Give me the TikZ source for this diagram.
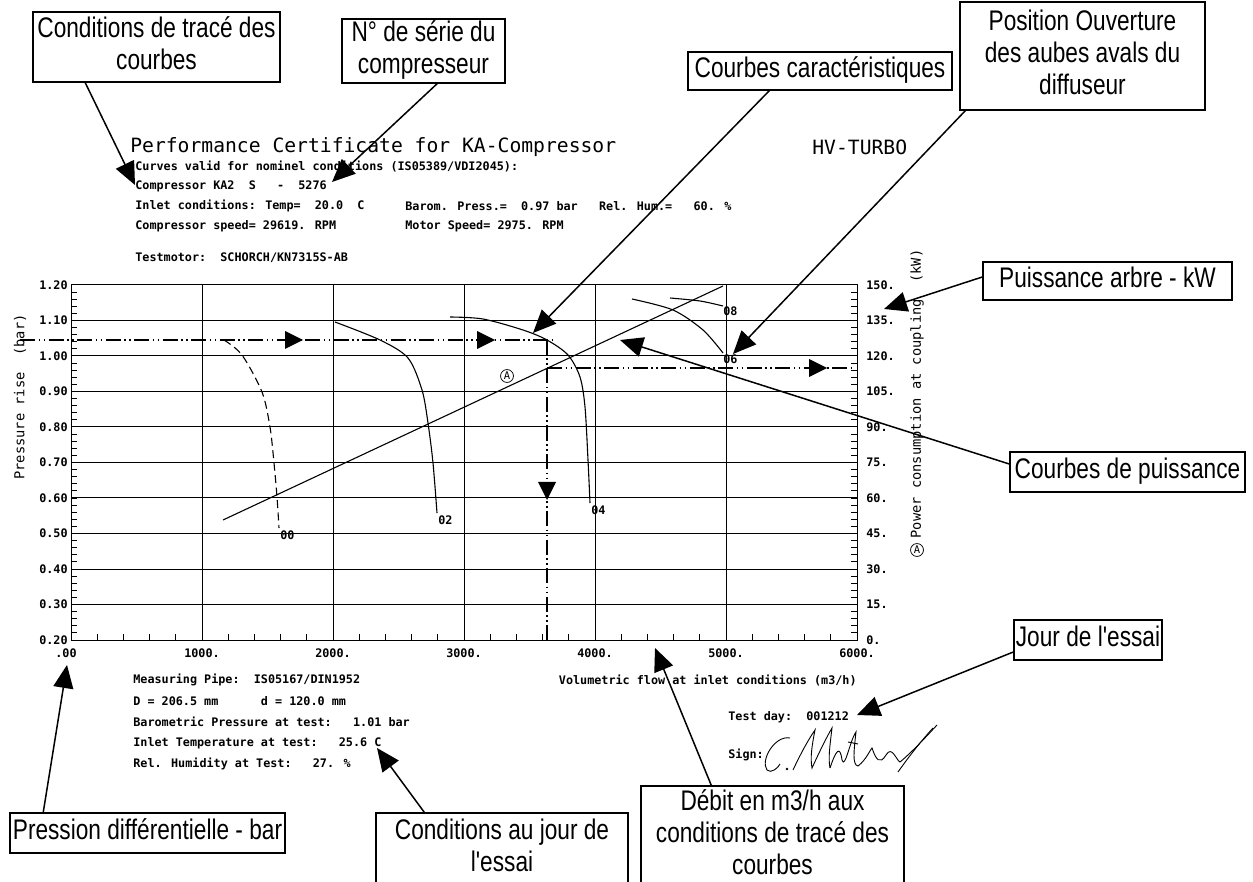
\documentclass[tikz,border=0pt]{standalone}
\usepackage{fontspec}
\usepackage{graphicx}
\usetikzlibrary{arrows.meta,calc}
\newfontfamily\calfont{Liberation Sans}
\newfontfamily\plotfont{DejaVu Sans Mono}
\newcommand\ctxt[1]{\scalebox{1}[1.25]{\calfont\fontsize{12.9}{14.5}\selectfont\begin{tabular}{@{}c@{}}#1\end{tabular}}}
\tikzset{
  callout/.style={draw, line width=0.3mm, inner sep=0pt, fill=white},
  ptr/.style={line width=0.3mm, -{Triangle[length=4.6mm,width=4mm]}},
  gridl/.style={line width=0.2mm},
  dd/.style={line width=0.4mm, dash pattern=on 3mm off 0.7mm on 0.3mm off 0.7mm on 0.3mm off 0.7mm},
  ptxt/.style={font={\plotfont\bfseries\fontsize{6.7}{8}\selectfont}, inner sep=0pt},
  ttl/.style={font={\plotfont\fontsize{11.2}{13}\selectfont}, inner sep=0pt},
  axl/.style={font={\plotfont\fontsize{7.8}{10}\selectfont}, inner sep=0pt},
  curve/.style={line width=0.22mm},
  sig/.style={line width=0.18mm},
  tri/.style={fill=black},
}
\begin{document}
\begin{tikzpicture}[x=0.2mm,y=-0.2mm]
\useasboundingbox (0,0) rectangle (1253,882);
\fill[white] (0,0) rectangle (1253,882);

% ---------- header text ----------
\node[ttl,anchor=west] (title) at (130,147) {Performance Certificate for KA-Compressor};
\node[ttl,anchor=west] (hv) at (812,147) {HV-TURBO};
\node[ptxt,anchor=west] (h1) at (135,166) {Curves valid for nominel conditions (IS05389/VDI2045):};
\node[ptxt,anchor=west] (h2) at (135,186) {Compressor KA2~~S~~~-~~5276};
\node[ptxt,anchor=west] (h3) at (135,206) {Inlet conditions: Temp=~~20.0~~C};
\node[ptxt,anchor=west] (h3b) at (405,206) {Barom. Press.=~~0.97 bar~~~Rel. Hum.=~~~60. \%};
\node[ptxt,anchor=west] (h4) at (135,226) {Compressor speed= 29619. RPM};
\node[ptxt,anchor=west] (h4b) at (405,226) {Motor Speed= 2975. RPM};
\node[ptxt,anchor=west] (h5) at (135,258) {Testmotor:~~SCHORCH/KN7315S-AB};

% ---------- grid ----------
\draw[gridl] (71,285) rectangle (857,640);
\foreach \k in {1,...,9} \draw[gridl] (71,285+\k*35.5) -- (857,285+\k*35.5);
\foreach \k in {1,...,5} \draw[gridl] (71+\k*131,285) -- (71+\k*131,640);
\foreach \i in {1,...,49} \draw[gridl] (71,285+\i*7.1) -- ++(6,0);
\foreach \i in {1,...,49} \draw[gridl] (857,285+\i*7.1) -- ++(-6,0);
\foreach \i in {1,...,29} \draw[gridl] (71+\i*26.2,640) -- ++(0,-6);

% axis labels
\foreach \k/\l in {0/1.20,1/1.10,2/1.00,3/0.90,4/0.80,5/0.70,6/0.60,7/0.50,8/0.40,9/0.30,10/0.20}
  \node[ptxt,anchor=east] (yl\k) at (68,285+\k*35.5) {\l};
\foreach \k/\l in {0/150.,1/135.,2/120.,3/105.,4/90.,5/75.,6/60.,7/45.,8/30.,9/15.,10/0.}
  \node[ptxt,anchor=west] (rl\k) at (866,285+\k*35.5) {\l};
\node[ptxt] (xl0) at (66,653) {.00};
\foreach \k/\l in {1/1000.,2/2000.,3/3000.,4/4000.,5/5000.,6/6000.}
  \node[ptxt] (xl\k) at (71+\k*131,653) {\l};
\node[axl,rotate=90] (ylab) at (20,397) {Pressure rise~~(bar)};
\node[axl,rotate=90] (rlab) at (917,394) {Power consumption at coupling~~(kW)};
\node[ptxt,draw,circle,inner sep=0.6pt,line width=0.15mm,font={\plotfont\fontsize{6}{7}\selectfont}] (rA) at (917,550) {A};

% ---------- curves ----------
\draw[curve,dash pattern=on 1.6mm off 0.9mm] plot[smooth] coordinates {(224,340) (242,355) (262,392) (270,427) (274,463) (277,497) (279,528)};
\draw[curve] plot[smooth] coordinates {(335,322) (380,340) (408,358) (422,390) (428,423) (433,463) (437,513)};
\draw[curve] plot[smooth] coordinates {(450,317) (483,319) (523,330) (547,340) (568,355) (580,377) (585,407) (588,460) (590,503)};
\draw[curve] plot[smooth] coordinates {(632,299) (673,310) (703,330) (723,353)};
\draw[curve] plot[smooth] coordinates {(670,298) (700,301) (723,306)};
\coordinate (pwA) at (223,520);
\coordinate (pwB) at (723,286);
\draw[curve] (pwA) -- (pwB);
\node[ptxt,draw,circle,inner sep=0.6pt,line width=0.15mm,font={\plotfont\fontsize{6}{7}\selectfont},fill=white] (cA) at (507,376) {A};
\node[ptxt,anchor=north west] (l00) at (280,530) {00};
\node[ptxt,anchor=north west] (l02) at (438,515) {02};
\node[ptxt,anchor=north west] (l04) at (591,505) {04};
\node[ptxt,anchor=north west] (l06) at (723,354) {06};
\node[ptxt,anchor=north west] (l08) at (723,306) {08};

% ---------- dash-dot reading lines ----------
\draw[dd] (20,340) -- (555,340);
\draw[dd] (547,340) -- (547,640);
\draw[dd] (547,368) -- (855,368);
\fill[tri] (303,340) -- (285,331) -- (285,349) -- cycle;
\fill[tri] (495,340) -- (477,331) -- (477,349) -- cycle;
\fill[tri] (827,368) -- (809,359) -- (809,377) -- cycle;
\fill[tri] (547,500) -- (538,482) -- (556,482) -- cycle;

% ---------- bottom text ----------
\node[ptxt,anchor=west] (b1) at (133,680) {Measuring Pipe:~~IS05167/DIN1952};
\node[ptxt,anchor=west] (b2) at (133,701) {D = 206.5 mm~~~~~~d = 120.0 mm};
\node[ptxt,anchor=west] (b3) at (133,722) {Barometric Pressure at test:~~~1.01 bar};
\node[ptxt,anchor=west] (b4) at (133,743) {Inlet Temperature at test:~~~25.6 C};
\node[ptxt,anchor=west] (b5) at (133,764) {Rel. Humidity at Test:~~~27. \%};
\node[ptxt,anchor=east] (vf) at (857,680) {Volumetric flow at inlet conditions (m3/h)};
\node[ptxt,anchor=west] (td) at (728,717) {Test day:~~001212};
\node[ptxt,anchor=west] (sg) at (728,755) {Sign:};

% signature
\draw[sig] (790,738) .. controls (775,735) and (760,760) .. (767,770) .. controls (771,774) and (778,768) .. (780,764);
\fill (787,769) circle (1.3);
\draw[sig] (793,770) .. controls (800,755) and (808,740) .. (815,730) .. controls (812,745) and (810,758) .. (812,768) .. controls (818,755) and (826,738) .. (832,728) .. controls (830,745) and (828,758) .. (830,768);
\draw[sig] (830,768) .. controls (836,750) and (840,745) .. (842,760) .. controls (845,770) and (850,740) .. (856,732) .. controls (854,750) and (852,765) .. (858,766) .. controls (866,760) and (870,750) .. (872,748) .. controls (876,760) and (880,765) .. (886,755) .. controls (892,745) and (896,760) .. (900,762) .. controls (912,752) and (925,738) .. (937,725);
\draw[sig] (898,772) .. controls (910,755) and (922,740) .. (933,728);
\draw[sig] (848,742) -- (858,744);

% ---------- callouts ----------
\node[callout,minimum width=247*0.2mm,minimum height=70*0.2mm] (c1) at (156.5,47) {\ctxt{Conditions de tracé des\\courbes}};
\node[callout,minimum width=163*0.2mm,minimum height=62*0.2mm] (c2) at (423.5,51) {\ctxt{N° de série du\\compresseur}};
\node[callout,minimum width=264*0.2mm,minimum height=38*0.2mm] (c3) at (820,71) {\ctxt{Courbes caractéristiques}};
\node[callout,minimum width=245*0.2mm,minimum height=108*0.2mm] (c4) at (1082.5,56) {\ctxt{Position Ouverture\\des aubes avals du\\diffuseur}};
\node[callout,minimum width=249*0.2mm,minimum height=38*0.2mm] (c5) at (1107.5,281) {\ctxt{Puissance arbre - kW}};
\node[callout,minimum width=235*0.2mm,minimum height=40*0.2mm] (c6) at (1127.5,472) {\ctxt{Courbes de puissance}};
\node[callout,minimum width=148*0.2mm,minimum height=40*0.2mm] (c7) at (1088,640) {\ctxt{Jour de l'essai}};
\node[callout,minimum width=275*0.2mm,minimum height=40*0.2mm] (c8) at (147.5,833) {\ctxt{Pression différentielle - bar}};
\node[callout,minimum width=252*0.2mm,minimum height=72*0.2mm] (c9) at (502,849) {\ctxt{Conditions au jour de\\l'essai}};
\node[callout,minimum width=263*0.2mm,minimum height=100*0.2mm] (c10) at (772.5,836) {\ctxt{Débit en m3/h aux\\conditions de tracé des\\courbes}};

% pointer targets
\coordinate (t1) at (135,185);
\coordinate (t2) at (332,182);
\coordinate (t3) at (533,333);
\coordinate (t4) at (733,354);
\coordinate (t5) at (884,309);
\coordinate (t6) at (620,340);
\coordinate (t7) at (857,715);
\coordinate (t8) at (67,665);
\coordinate (t9) at (377,748);
\coordinate (t10) at (655,648);

\draw[ptr] ($(c1.south west)+(53,0)$) -- (t1);
\draw[ptr] ($(c2.south west)+(96,0)$) -- (t2);
\draw[ptr] ($(c3.south west)+(82,0)$) -- (t3);
\draw[ptr] ($(c4.south west)+(6,0)$) -- (t4);
\draw[ptr] ($(c5.west)+(0,-4)$) -- (t5);
\draw[ptr] ($(c6.west)+(0,-8)$) -- (t6);
\draw[ptr] ($(c7.west)+(0,12)$) -- (t7);
\draw[ptr] ($(c8.north west)+(34,0)$) -- (t8);
\draw[ptr] ($(c9.north west)+(49,0)$) -- (t9);
\draw[ptr] ($(c10.north west)+(71,0)$) -- (t10);
\end{tikzpicture}
\end{document}
